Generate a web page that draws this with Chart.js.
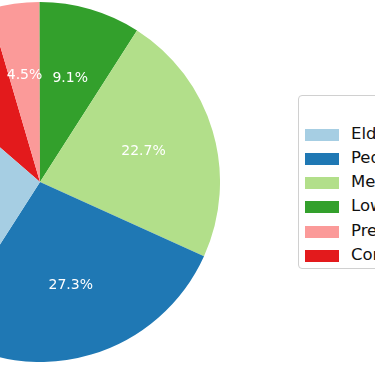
<!DOCTYPE html>
<html>
<head>
<meta charset="utf-8">
<script src="https://cdn.jsdelivr.net/npm/chart.js@4"></script>
<style>
  html, body { margin: 0; padding: 0; background: #fff; overflow: hidden; width: 375px; height: 366px; }
  #wrap { position: absolute; left: -140px; top: 2px; width: 360px; height: 360px; }
  #legend { position: absolute; left: 298px; top: 95px; width: 140px; height: 174px; border: 1px solid #d0d0d0; border-radius: 4px; background: #fff; box-sizing: border-box; font-family: "DejaVu Sans", sans-serif; font-size: 16.5px; color: #111; }
  .row { position: absolute; left: 0; height: 14px; white-space: nowrap; }
  .patch { position: absolute; left: 6px; top: 0; width: 34px; height: 12px; }
  .lab { position: absolute; left: 52px; top: -5px; line-height: 20px; }
</style>
</head>
<body>
<div id="wrap"><canvas id="c" width="360" height="360"></canvas></div>
<div id="legend"></div>
<script>
const categories = ["Elderly", "Pediatric", "Medical Staff", "Low Risk", "Pregnant", "Comorbid"];
const shares = [27.3, 27.3, 22.7, 9.1, 4.5, 9.1];
const colors = ["#a6cee3", "#1f78b4", "#b2df8a", "#33a02c", "#fb9a99", "#e31a1c"];

// matplotlib draws counter-clockwise; Chart.js clockwise -> reverse order
const order = categories.map((_, i) => categories.length - 1 - i);
const total = shares.reduce((a, b) => a + b, 0);
const startAngle = 139.1; // matplotlib-style start angle (deg, ccw from +x)

const pctLabels = {
  id: 'pctLabels',
  afterDatasetsDraw(chart) {
    const ctx = chart.ctx;
    const meta = chart.getDatasetMeta(0);
    const data = chart.data.datasets[0].data;
    ctx.save();
    ctx.fillStyle = '#ffffff';
    ctx.font = '14px "DejaVu Sans"';
    ctx.textAlign = 'center';
    ctx.textBaseline = 'middle';
    meta.data.forEach((arc, i) => {
      const p = arc.getProps(['x', 'y', 'startAngle', 'endAngle', 'outerRadius'], true);
      const mid = (p.startAngle + p.endAngle) / 2;
      const r = p.outerRadius * 0.6;
      const txt = (data[i] / total * 100).toFixed(1) + '%';
      ctx.fillText(txt, p.x + Math.cos(mid) * r, p.y + Math.sin(mid) * r);
    });
    ctx.restore();
  }
};

new Chart(document.getElementById('c'), {
  type: 'pie',
  data: {
    labels: order.map(i => categories[i]),
    datasets: [{
      data: order.map(i => shares[i]),
      backgroundColor: order.map(i => colors[i]),
      borderWidth: 0,
      hoverOffset: 0,
      offset: 0
    }]
  },
  options: {
    responsive: false,
    animation: false,
    rotation: 90 - startAngle - 360 * 0, 
    layout: { padding: 0 },
    plugins: { legend: { display: false }, tooltip: { enabled: false } },
    events: []
  },
  plugins: [pctLabels]
});

// legend (in original category order)
const lg = document.getElementById('legend');
const rowTops = [33, 57, 81, 105, 130, 154];
categories.forEach((name, i) => {
  const row = document.createElement('div');
  row.className = 'row';
  row.style.top = rowTops[i] + 'px';
  row.innerHTML = '<div class="patch" style="background:' + colors[i] + '"></div><div class="lab"></div>';
  row.querySelector('.lab').textContent = name;
  lg.appendChild(row);
});
</script>
</body>
</html>
